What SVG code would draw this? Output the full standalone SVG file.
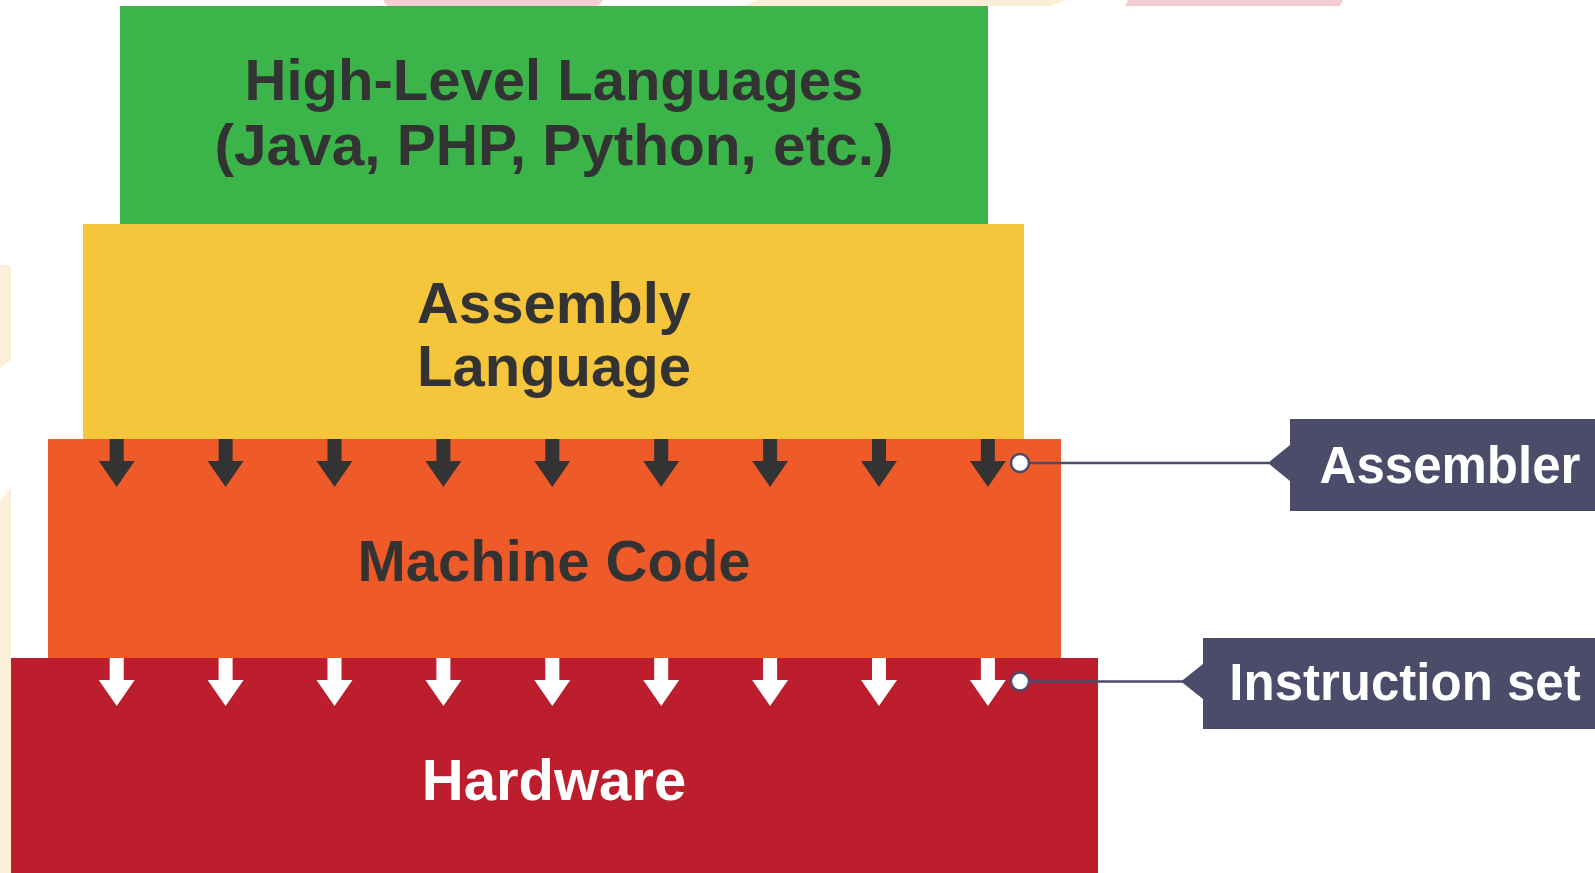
<svg xmlns="http://www.w3.org/2000/svg" xmlns:xlink="http://www.w3.org/1999/xlink" width="1595" height="873" viewBox="0 0 1595 873">
  <style>
    .t { font-family: "Liberation Sans", Arial, sans-serif; font-weight: bold; text-anchor: middle; }
    .main { font-size: 58px; fill: #333333; }
    .mainw { font-size: 58px; fill: #ffffff; }
    .lab { font-size: 51px; fill: #ffffff; }
    .conn { stroke: #4b4b6a; stroke-width: 2.5; fill: none; }
    .dot { fill: #ffffff; stroke: #4b4b6a; stroke-width: 2.5; }
    .box { fill: #4b4b6a; }
    .pink { fill: #f4cdd3; }
    .beige { fill: #fcefda; }
  </style>
  <defs>
    <path id="arr" d="M-7,0 H7 V22 H18 L0,48 L-18,22 H-7 Z"/>
  </defs>

  <g id="background">
    <path class="pink" d="M383,0 H603 Q601,4 598,6 H388 Q385,4 383,0 Z"/>
    <path class="beige" d="M757,0 H1067 L1050,6 H745 Z"/>
    <path class="pink" d="M1128,0 H1343 L1340,6 H1125 Z"/>
    <path class="beige" d="M0,265 H11 V360 L0,368 Z"/>
    <path class="beige" d="M0,500 L11,488 V873 H0 Z"/>
  </g>

  <g id="high-level">
    <rect x="120" y="6" width="868" height="218" fill="#3bb44a"/>
    <text class="t main" x="554" y="100">High-Level Languages</text>
    <text class="t main" x="554" y="165" textLength="679" lengthAdjust="spacingAndGlyphs">(Java, PHP, Python, etc.)</text>
  </g>

  <g id="assembly">
    <rect x="83" y="224" width="941" height="215" fill="#f5c53c"/>
    <text class="t main" x="554" y="323">Assembly</text>
    <text class="t main" x="554" y="386">Language</text>
  </g>

  <g id="machine-code">
    <rect x="48" y="439" width="1013" height="219" fill="#ef5a29"/>
    <text class="t main" x="554" y="581">Machine Code</text>
  </g>

  <g id="hardware">
    <rect x="11" y="658" width="1087" height="215" fill="#bc1e2d"/>
    <text class="t mainw" x="554" y="800">Hardware</text>
  </g>

  <g id="arrows-dark" fill="#333333">
    <use xlink:href="#arr" transform="translate(116.7,439)"/>
    <use xlink:href="#arr" transform="translate(225.6,439)"/>
    <use xlink:href="#arr" transform="translate(334.5,439)"/>
    <use xlink:href="#arr" transform="translate(443.4,439)"/>
    <use xlink:href="#arr" transform="translate(552.3,439)"/>
    <use xlink:href="#arr" transform="translate(661.2,439)"/>
    <use xlink:href="#arr" transform="translate(770.1,439)"/>
    <use xlink:href="#arr" transform="translate(879,439)"/>
    <use xlink:href="#arr" transform="translate(987.9,439)"/>
  </g>

  <g id="arrows-white" fill="#ffffff">
    <use xlink:href="#arr" transform="translate(116.7,658)"/>
    <use xlink:href="#arr" transform="translate(225.6,658)"/>
    <use xlink:href="#arr" transform="translate(334.5,658)"/>
    <use xlink:href="#arr" transform="translate(443.4,658)"/>
    <use xlink:href="#arr" transform="translate(552.3,658)"/>
    <use xlink:href="#arr" transform="translate(661.2,658)"/>
    <use xlink:href="#arr" transform="translate(770.1,658)"/>
    <use xlink:href="#arr" transform="translate(879,658)"/>
    <use xlink:href="#arr" transform="translate(987.9,658)"/>
  </g>

  <g id="connectors">
    <line class="conn" x1="1020" y1="463" x2="1270" y2="463"/>
    <circle class="dot" cx="1020" cy="463" r="9"/>
    <line class="conn" x1="1020" y1="681.5" x2="1183" y2="681.5"/>
    <circle class="dot" cx="1020" cy="681.5" r="9"/>
  </g>

  <g id="assembler-label">
    <path class="box" d="M1290,419 H1595 V511 H1290 V481 L1268,463 L1290,445 Z"/>
    <text class="t lab" x="1450" y="483">Assembler</text>
  </g>

  <g id="instruction-set-label">
    <path class="box" d="M1203,638 H1595 V729 H1203 V699 L1181,681.5 L1203,664 Z"/>
    <text class="t lab" x="1405" y="700">Instruction set</text>
  </g>
</svg>
